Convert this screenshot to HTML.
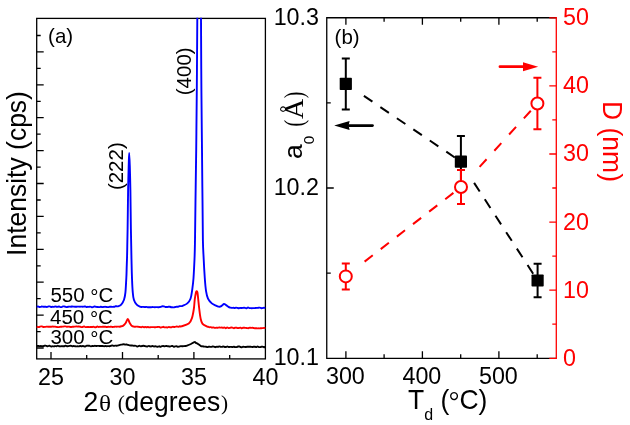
<!DOCTYPE html>
<html><head><meta charset="utf-8"><title>XRD</title>
<style>html,body{margin:0;padding:0;background:#fff;}body{width:630px;height:425px;overflow:hidden;font-family:"Liberation Sans",sans-serif;}svg{display:block;will-change:transform;}text{font-family:"Liberation Sans",sans-serif;}.se{font-family:"Liberation Serif",serif;}</style>
</head><body>
<svg width="630" height="425" viewBox="0 0 630 425">
<rect x="0" y="0" width="630" height="425" fill="#fff"/>
<g id="panelA">
<clipPath id="ca"><rect x="36.05" y="17.75" width="230.00" height="341.80"/></clipPath>
<rect x="36.7" y="18.4" width="228.7" height="340.5" fill="none" stroke="#000" stroke-width="1.3"/>
<path d="M36.7,348.0h7 M36.7,331.6h4 M36.7,315.1h7 M36.7,298.7h4 M36.7,282.2h7 M36.7,265.8h4 M36.7,249.3h7 M36.7,232.9h4 M36.7,216.4h7 M36.7,200.0h4 M36.7,183.5h7 M36.7,167.1h4 M36.7,150.6h7 M36.7,134.2h4 M36.7,117.7h7 M36.7,101.3h4 M36.7,84.8h7 M36.7,68.4h4 M36.7,51.9h7 M36.7,35.5h4 M51.0,358.9v-7 M122.5,358.9v-7 M193.9,358.9v-7 M86.7,358.9v-4 M158.2,358.9v-4 M229.7,358.9v-4" stroke="#000" stroke-width="1.3" fill="none"/>
<g clip-path="url(#ca)" fill="none" stroke-width="1.9" stroke-linejoin="round" stroke-linecap="butt">
<path d="M36.7,346.1 C36.9,346.1 37.5,345.9 38.0,345.9 C38.5,345.9 38.9,346.1 39.3,346.1 C39.8,346.2 40.2,346.0 40.7,346.0 C41.1,346.0 41.5,346.1 42.0,346.2 C42.4,346.2 42.8,346.3 43.3,346.2 C43.8,346.1 44.1,345.8 44.6,345.7 C45.1,345.6 45.5,345.6 45.9,345.7 C46.4,345.8 46.8,346.3 47.2,346.4 C47.7,346.4 48.1,346.0 48.6,345.9 C49.0,345.8 49.4,345.7 49.9,345.9 C50.4,346.0 50.7,346.5 51.2,346.5 C51.7,346.5 52.1,346.1 52.5,346.1 C53.0,346.0 53.4,346.4 53.8,346.4 C54.3,346.4 54.7,346.1 55.2,346.1 C55.6,346.0 56.0,346.2 56.5,346.2 C57.0,346.1 57.3,345.8 57.8,345.8 C58.3,345.8 58.6,346.1 59.1,346.2 C59.6,346.3 60.0,346.4 60.4,346.4 C60.9,346.4 61.3,346.1 61.8,346.1 C62.2,346.1 62.6,346.2 63.1,346.3 C63.5,346.3 63.9,346.3 64.4,346.2 C64.9,346.1 65.2,345.7 65.7,345.7 C66.2,345.7 66.6,346.2 67.0,346.3 C67.5,346.3 67.9,346.2 68.3,346.1 C68.8,346.1 69.2,346.0 69.7,345.9 C70.1,345.8 70.5,345.6 71.0,345.7 C71.5,345.7 71.8,346.3 72.3,346.4 C72.8,346.4 73.2,346.0 73.6,346.0 C74.1,346.0 74.5,346.2 74.9,346.2 C75.4,346.3 75.8,346.4 76.3,346.4 C76.7,346.4 77.1,346.2 77.6,346.2 C78.1,346.2 78.4,346.4 78.9,346.4 C79.4,346.3 79.7,346.0 80.2,345.9 C80.7,345.9 81.1,346.3 81.5,346.3 C82.0,346.3 82.4,346.0 82.9,346.0 C83.3,346.0 83.7,346.3 84.2,346.4 C84.6,346.5 85.0,346.5 85.5,346.3 C86.0,346.2 86.3,345.8 86.8,345.7 C87.3,345.6 87.7,345.7 88.1,345.7 C88.6,345.7 89.0,345.7 89.5,345.8 C89.9,345.9 90.3,346.4 90.8,346.4 C91.2,346.4 91.6,346.0 92.1,346.0 C92.6,345.9 92.9,346.1 93.4,346.1 C93.9,346.1 94.3,345.9 94.7,345.8 C95.2,345.8 95.6,346.0 96.0,346.0 C96.5,346.0 96.9,345.9 97.4,345.9 C97.8,345.9 98.2,345.9 98.7,345.9 C99.2,345.9 99.5,346.0 100.0,346.0 C100.5,346.0 100.9,346.0 101.4,346.0 C101.9,346.0 102.2,346.0 102.7,346.0 C103.2,346.0 103.6,346.2 104.1,346.2 C104.6,346.2 105.0,346.0 105.5,346.0 C105.9,346.0 106.3,346.2 106.8,346.2 C107.3,346.2 107.7,346.1 108.2,346.1 C108.7,346.1 109.1,346.2 109.5,346.2 C110.0,346.1 110.4,346.0 110.9,345.9 C111.4,345.7 111.8,345.4 112.3,345.4 C112.8,345.4 113.1,345.9 113.6,345.9 C114.1,346.0 114.5,345.6 115.0,345.6 C115.5,345.6 116.1,345.8 116.7,345.7 C117.3,345.7 117.7,345.6 118.3,345.4 C118.9,345.2 119.4,345.0 120.0,344.8 C120.6,344.6 121.2,344.7 121.8,344.6 C122.5,344.5 123.1,344.2 123.7,344.2 C124.3,344.2 124.6,344.6 125.1,344.6 C125.6,344.7 126.1,344.4 126.6,344.4 C127.1,344.5 127.5,344.7 128.0,344.9 C128.5,345.1 129.0,345.3 129.5,345.4 C130.0,345.5 130.5,345.5 131.0,345.5 C131.5,345.5 132.0,345.4 132.5,345.5 C133.0,345.5 133.5,345.9 134.0,345.9 C134.5,345.9 134.9,345.5 135.3,345.6 C135.8,345.6 136.2,346.1 136.7,346.3 C137.1,346.4 137.5,346.5 138.0,346.4 C138.5,346.3 138.9,345.7 139.3,345.7 C139.8,345.7 140.2,346.3 140.7,346.3 C141.1,346.4 141.5,346.1 142.0,346.0 C142.5,345.9 142.9,345.8 143.3,345.8 C143.8,345.8 144.2,345.9 144.7,346.0 C145.1,346.1 145.5,346.3 146.0,346.4 C146.5,346.5 146.9,346.6 147.3,346.5 C147.8,346.4 148.2,345.9 148.7,345.9 C149.1,345.8 149.5,346.2 150.0,346.3 C150.5,346.4 150.8,346.5 151.3,346.4 C151.8,346.3 152.2,345.9 152.6,345.9 C153.1,345.9 153.5,346.5 153.9,346.5 C154.4,346.5 154.8,346.2 155.3,346.2 C155.7,346.2 156.1,346.5 156.6,346.6 C157.1,346.7 157.4,346.8 157.9,346.7 C158.4,346.7 158.7,346.3 159.2,346.3 C159.7,346.3 160.1,346.8 160.5,346.8 C161.0,346.7 161.4,346.3 161.8,346.2 C162.3,346.1 162.7,346.0 163.2,346.0 C163.6,346.0 164.0,346.4 164.5,346.4 C164.9,346.4 165.3,346.0 165.8,346.0 C166.3,345.9 166.6,346.1 167.1,346.1 C167.6,346.2 167.9,346.2 168.4,346.3 C168.9,346.4 169.3,346.5 169.7,346.5 C170.2,346.4 170.6,346.2 171.1,346.1 C171.5,346.0 171.9,345.9 172.4,346.0 C172.8,346.1 173.2,346.6 173.7,346.7 C174.2,346.8 174.5,346.5 175.0,346.4 C175.5,346.3 175.9,346.2 176.3,346.2 C176.8,346.3 177.2,346.6 177.7,346.7 C178.1,346.8 178.5,346.7 179.0,346.6 C179.5,346.5 179.9,346.2 180.3,346.2 C180.8,346.1 181.2,346.2 181.7,346.2 C182.1,346.2 182.5,346.2 183.0,346.2 C183.5,346.2 183.9,346.1 184.3,346.1 C184.8,346.0 185.2,346.1 185.7,346.0 C186.1,345.9 186.0,346.1 187.0,345.7 C188.0,345.3 189.7,344.6 191.0,344.0 C192.3,343.4 193.6,342.3 194.5,342.1 C195.4,341.9 195.5,342.7 196.0,342.9 C196.5,343.2 196.6,343.0 197.5,343.6 C198.4,344.2 200.1,345.6 201.0,346.1 C201.9,346.6 202.1,346.3 202.7,346.3 C203.3,346.4 203.7,346.5 204.3,346.6 C204.9,346.7 205.5,346.6 206.0,346.7 C206.5,346.8 206.9,347.1 207.3,347.1 C207.8,347.1 208.2,346.8 208.7,346.7 C209.1,346.7 209.5,346.6 210.0,346.7 C210.5,346.7 210.9,347.0 211.3,346.9 C211.8,346.9 212.2,346.6 212.7,346.5 C213.1,346.5 213.5,346.5 214.0,346.6 C214.5,346.7 214.9,347.1 215.3,347.2 C215.8,347.2 216.2,346.9 216.7,346.8 C217.1,346.7 217.5,346.9 218.0,346.8 C218.5,346.8 218.9,346.4 219.3,346.4 C219.8,346.4 220.2,346.7 220.7,346.8 C221.1,346.8 221.5,347.0 222.0,346.9 C222.5,346.8 222.9,346.4 223.3,346.4 C223.8,346.5 224.2,346.9 224.7,347.0 C225.1,347.0 225.5,347.1 226.0,347.0 C226.5,346.9 226.9,346.5 227.3,346.5 C227.8,346.5 228.2,346.9 228.7,347.0 C229.1,347.1 229.5,346.9 230.0,346.9 C230.5,346.9 230.8,346.8 231.3,346.9 C231.8,346.9 232.2,347.1 232.6,347.1 C233.1,347.0 233.5,346.8 233.9,346.8 C234.4,346.8 234.8,347.0 235.2,347.1 C235.7,347.1 236.1,347.2 236.6,347.1 C237.0,347.0 237.4,346.6 237.9,346.5 C238.3,346.4 238.7,346.4 239.2,346.5 C239.6,346.6 240.0,346.9 240.5,347.0 C241.0,347.2 241.3,347.4 241.8,347.3 C242.3,347.2 242.6,346.8 243.1,346.7 C243.6,346.6 244.0,346.8 244.4,346.9 C244.9,346.9 245.3,347.0 245.7,347.0 C246.2,347.0 246.6,346.8 247.0,346.7 C247.5,346.7 247.9,346.8 248.4,346.8 C248.8,346.8 249.2,346.7 249.7,346.7 C250.1,346.7 250.5,346.7 251.0,346.8 C251.4,346.8 251.8,347.0 252.3,347.0 C252.8,347.0 253.1,346.8 253.6,346.7 C254.1,346.7 254.4,346.7 254.9,346.8 C255.4,346.9 255.8,347.2 256.2,347.1 C256.7,347.1 257.1,346.5 257.5,346.5 C258.0,346.5 258.4,346.9 258.8,347.0 C259.3,347.1 259.7,347.1 260.2,347.1 C260.6,347.1 261.0,346.8 261.5,346.7 C261.9,346.7 262.3,346.6 262.8,346.7 C263.2,346.7 263.6,347.1 264.1,347.2 C264.6,347.2 265.2,346.9 265.4,346.9" stroke="#000"/>
<path d="M36.7,326.7 C36.9,326.8 37.5,327.0 38.0,327.0 C38.5,327.1 38.9,327.2 39.3,327.0 C39.8,326.9 40.2,326.5 40.7,326.4 C41.1,326.3 41.5,326.3 42.0,326.4 C42.4,326.5 42.8,326.9 43.3,327.0 C43.8,327.1 44.1,326.9 44.6,326.9 C45.1,326.9 45.5,326.9 45.9,326.8 C46.4,326.8 46.8,326.6 47.2,326.6 C47.7,326.6 48.1,326.8 48.6,326.8 C49.0,326.8 49.4,326.8 49.9,326.8 C50.4,326.8 50.7,326.8 51.2,326.8 C51.7,326.7 52.1,326.5 52.5,326.5 C53.0,326.4 53.4,326.6 53.8,326.7 C54.3,326.7 54.7,326.6 55.2,326.6 C55.6,326.7 56.0,326.8 56.5,326.9 C57.0,327.0 57.3,327.1 57.8,327.1 C58.3,327.1 58.6,327.1 59.1,327.1 C59.6,327.0 60.0,326.8 60.4,326.8 C60.9,326.7 61.3,326.7 61.8,326.7 C62.2,326.7 62.6,326.6 63.1,326.6 C63.5,326.5 63.9,326.4 64.4,326.4 C64.9,326.4 65.2,326.3 65.7,326.4 C66.2,326.4 66.6,326.7 67.0,326.7 C67.5,326.8 67.9,326.6 68.3,326.6 C68.8,326.6 69.2,326.6 69.7,326.7 C70.1,326.7 70.5,327.0 71.0,327.1 C71.5,327.1 71.8,326.8 72.3,326.8 C72.8,326.7 73.2,326.8 73.6,326.8 C74.1,326.8 74.5,326.6 74.9,326.6 C75.4,326.5 75.8,326.4 76.3,326.4 C76.7,326.4 77.1,326.6 77.6,326.6 C78.1,326.6 78.4,326.5 78.9,326.5 C79.4,326.5 79.7,326.7 80.2,326.8 C80.7,326.9 81.1,327.1 81.5,327.1 C82.0,327.2 82.4,327.0 82.9,326.9 C83.3,326.8 83.7,326.5 84.2,326.5 C84.6,326.6 85.0,327.0 85.5,327.1 C86.0,327.2 86.3,327.0 86.8,327.0 C87.3,327.0 87.7,326.9 88.1,327.0 C88.6,327.0 89.0,327.1 89.5,327.1 C89.9,327.1 90.3,327.0 90.8,327.0 C91.2,327.0 91.6,327.1 92.1,327.0 C92.6,327.0 92.9,326.7 93.4,326.7 C93.9,326.7 94.3,327.1 94.7,327.2 C95.2,327.2 95.6,327.3 96.0,327.1 C96.5,327.0 96.9,326.6 97.4,326.5 C97.8,326.5 98.2,326.9 98.7,327.0 C99.2,327.0 99.5,326.8 100.0,326.8 C100.5,326.8 100.9,327.0 101.4,326.9 C101.9,326.9 102.3,326.8 102.8,326.7 C103.3,326.7 103.7,326.8 104.2,326.8 C104.7,326.8 105.0,326.7 105.5,326.7 C106.0,326.8 106.4,327.1 106.9,327.0 C107.4,327.0 107.8,326.7 108.3,326.7 C108.8,326.7 109.2,327.0 109.7,326.9 C110.2,326.9 110.6,326.6 111.1,326.6 C111.6,326.6 112.0,326.9 112.5,327.0 C113.0,327.0 113.3,327.0 113.8,326.9 C114.3,326.9 114.7,326.7 115.2,326.6 C115.7,326.6 116.1,326.7 116.6,326.7 C117.1,326.7 117.5,326.6 118.0,326.6 C118.5,326.6 119.0,326.7 119.6,326.7 C120.2,326.6 120.7,326.4 121.3,326.3 C121.9,326.2 122.1,326.4 122.9,325.9 C123.7,325.4 124.6,324.6 125.5,323.3 C126.4,322.0 127.1,319.0 127.8,318.9 C128.5,318.8 128.9,321.6 129.6,322.8 C130.3,324.0 130.8,324.9 131.5,325.6 C132.2,326.3 133.0,326.4 133.7,326.6 C134.4,326.8 134.7,326.7 135.3,326.7 C135.8,326.7 136.3,326.6 136.8,326.6 C137.4,326.6 137.9,326.7 138.4,326.8 C139.0,326.8 139.5,326.9 140.0,327.0 C140.5,327.1 140.8,327.2 141.3,327.2 C141.8,327.1 142.1,326.7 142.6,326.8 C143.1,326.8 143.4,327.3 143.9,327.3 C144.4,327.4 144.7,326.9 145.2,326.9 C145.7,326.9 146.1,327.3 146.5,327.4 C147.0,327.4 147.4,326.9 147.8,326.9 C148.3,326.9 148.7,327.4 149.1,327.4 C149.6,327.5 150.0,327.3 150.4,327.2 C150.9,327.2 151.3,327.1 151.7,327.1 C152.2,327.1 152.6,327.1 153.0,327.1 C153.5,327.1 153.9,327.2 154.3,327.2 C154.8,327.2 155.2,327.2 155.7,327.2 C156.1,327.1 156.5,327.0 157.0,327.0 C157.4,326.9 157.8,326.9 158.3,326.9 C158.7,326.9 159.1,327.0 159.6,327.1 C160.0,327.2 160.4,327.5 160.9,327.5 C161.3,327.5 161.7,327.4 162.2,327.2 C162.6,327.1 163.0,326.8 163.5,326.8 C163.9,326.9 164.3,327.3 164.8,327.4 C165.3,327.5 165.6,327.3 166.1,327.3 C166.6,327.4 166.9,327.6 167.4,327.5 C167.9,327.4 168.2,327.0 168.7,327.0 C169.2,326.9 169.5,327.1 170.0,327.2 C170.5,327.3 170.9,327.4 171.4,327.3 C171.9,327.2 172.3,326.7 172.8,326.7 C173.3,326.6 173.7,327.0 174.2,327.0 C174.7,327.0 175.1,326.7 175.7,326.6 C176.2,326.5 176.6,326.4 177.1,326.5 C177.6,326.5 178.0,326.9 178.5,326.9 C179.0,326.8 179.4,326.3 179.9,326.2 C180.4,326.1 179.7,326.9 181.3,326.4 C182.9,325.9 186.9,325.1 188.8,323.6 C190.7,322.1 191.1,320.6 192.0,317.9 C192.9,315.2 193.4,311.9 193.9,308.5 C194.4,305.1 194.4,302.0 194.8,299.1 C195.2,296.2 195.7,293.7 196.0,292.3 C196.3,290.9 196.4,291.2 196.7,291.2 C197.0,291.2 197.1,290.9 197.4,292.3 C197.7,293.7 197.9,296.2 198.2,299.1 C198.5,302.0 198.8,305.1 199.2,308.5 C199.6,311.9 199.9,315.2 200.5,317.9 C201.1,320.6 201.3,322.1 202.4,323.6 C203.5,325.1 205.7,325.8 206.7,326.4 C207.7,327.0 207.5,326.6 208.0,326.7 C208.5,326.9 208.9,327.2 209.3,327.3 C209.8,327.3 210.2,327.0 210.7,327.1 C211.2,327.2 211.5,327.5 212.0,327.6 C212.5,327.7 212.9,327.3 213.4,327.4 C213.9,327.5 214.3,327.9 214.8,327.9 C215.3,328.0 215.7,327.6 216.2,327.6 C216.7,327.6 217.0,327.9 217.5,327.9 C218.0,327.8 218.4,327.4 218.9,327.4 C219.4,327.3 219.8,327.6 220.3,327.6 C220.8,327.7 221.2,327.5 221.7,327.5 C222.2,327.6 222.6,327.9 223.1,327.9 C223.6,327.9 224.0,327.4 224.5,327.5 C225.0,327.5 225.3,328.2 225.8,328.2 C226.3,328.2 226.7,327.5 227.2,327.5 C227.7,327.5 228.1,328.0 228.6,328.1 C229.1,328.1 229.5,328.0 230.0,327.9 C230.5,327.8 230.8,327.6 231.3,327.5 C231.8,327.5 232.2,327.6 232.6,327.7 C233.1,327.8 233.5,328.2 233.9,328.2 C234.4,328.1 234.8,327.8 235.2,327.7 C235.7,327.6 236.1,327.6 236.6,327.7 C237.0,327.8 237.4,328.1 237.9,328.1 C238.3,328.1 238.7,328.0 239.2,327.9 C239.6,327.8 240.0,327.5 240.5,327.6 C241.0,327.7 241.3,328.3 241.8,328.3 C242.3,328.4 242.6,327.8 243.1,327.7 C243.6,327.6 244.0,327.6 244.4,327.6 C244.9,327.7 245.3,327.8 245.7,327.9 C246.2,328.0 246.6,328.0 247.0,328.1 C247.5,328.1 247.9,328.3 248.4,328.2 C248.8,328.1 249.2,327.8 249.7,327.7 C250.1,327.7 250.5,327.9 251.0,327.9 C251.4,327.9 251.8,327.7 252.3,327.7 C252.8,327.7 253.1,327.9 253.6,328.0 C254.1,328.1 254.4,328.2 254.9,328.2 C255.4,328.3 255.8,328.2 256.2,328.2 C256.7,328.3 257.1,328.4 257.5,328.4 C258.0,328.4 258.4,328.3 258.8,328.3 C259.3,328.3 259.7,328.4 260.2,328.3 C260.6,328.3 261.0,328.3 261.5,328.2 C261.9,328.2 262.3,328.1 262.8,328.1 C263.2,328.0 263.6,327.9 264.1,327.9 C264.6,327.9 265.2,328.1 265.4,328.1" stroke="#ff0000"/>
<path d="M36.7,306.7 C36.9,306.7 37.5,306.4 38.0,306.4 C38.5,306.5 38.9,306.9 39.3,307.0 C39.8,307.1 40.2,307.0 40.6,306.9 C41.1,306.8 41.5,306.6 41.9,306.5 C42.4,306.5 42.8,306.7 43.3,306.7 C43.7,306.7 44.1,306.7 44.6,306.7 C45.0,306.7 45.4,306.8 45.9,306.8 C46.4,306.9 46.7,307.0 47.2,306.9 C47.7,306.9 48.0,306.5 48.5,306.4 C49.0,306.3 49.3,306.3 49.8,306.4 C50.3,306.5 50.7,306.9 51.1,307.0 C51.6,307.0 52.0,306.7 52.4,306.7 C52.9,306.7 53.3,307.0 53.8,306.9 C54.2,306.9 54.6,306.4 55.1,306.4 C55.5,306.3 55.9,306.6 56.4,306.7 C56.9,306.8 57.2,306.9 57.7,306.9 C58.2,306.9 58.5,306.5 59.0,306.5 C59.5,306.6 59.8,307.0 60.3,307.1 C60.8,307.2 61.2,307.2 61.6,307.1 C62.1,306.9 62.5,306.5 62.9,306.4 C63.4,306.3 63.8,306.3 64.3,306.4 C64.7,306.5 65.1,306.7 65.6,306.8 C66.0,306.9 66.4,307.1 66.9,307.1 C67.4,307.1 67.7,306.8 68.2,306.7 C68.7,306.6 69.0,306.6 69.5,306.6 C70.0,306.6 70.3,306.7 70.8,306.7 C71.3,306.7 71.7,306.5 72.1,306.4 C72.6,306.4 73.0,306.5 73.4,306.6 C73.9,306.6 74.3,306.7 74.8,306.7 C75.2,306.8 75.6,306.8 76.1,306.8 C76.5,306.8 76.9,306.6 77.4,306.6 C77.8,306.6 78.2,306.6 78.7,306.6 C79.2,306.6 79.5,306.8 80.0,306.8 C80.5,306.8 80.8,306.6 81.3,306.6 C81.8,306.6 82.1,306.8 82.6,306.8 C83.1,306.8 83.4,306.7 83.9,306.6 C84.4,306.6 84.7,306.4 85.2,306.4 C85.7,306.5 86.1,307.0 86.5,307.1 C87.0,307.1 87.4,306.9 87.8,306.8 C88.3,306.8 88.7,307.0 89.1,306.9 C89.6,306.9 90.0,306.5 90.4,306.6 C90.9,306.6 91.3,307.1 91.7,307.2 C92.2,307.3 92.6,307.2 93.0,307.1 C93.5,307.0 93.9,306.6 94.3,306.5 C94.8,306.4 95.2,306.6 95.7,306.7 C96.1,306.8 96.5,306.9 97.0,307.0 C97.4,307.0 97.8,306.9 98.3,307.0 C98.7,307.0 99.1,307.2 99.6,307.1 C100.0,307.1 100.4,306.8 100.9,306.7 C101.3,306.7 101.7,307.0 102.2,307.1 C102.6,307.1 103.0,307.0 103.5,306.9 C103.9,306.9 104.3,306.7 104.8,306.7 C105.3,306.6 105.6,306.8 106.1,306.9 C106.6,306.9 106.9,307.1 107.4,307.1 C107.9,307.1 108.2,307.1 108.7,307.1 C109.2,307.0 109.5,306.8 110.0,306.8 C110.5,306.8 110.9,306.8 111.3,306.8 C111.8,306.8 112.2,306.9 112.7,306.9 C113.1,306.9 113.5,306.9 114.0,306.8 C114.5,306.7 114.9,306.4 115.3,306.3 C115.8,306.2 116.2,306.3 116.7,306.3 C117.1,306.3 117.2,306.6 118.0,306.3 C118.8,306.0 120.1,305.9 121.2,304.7 C122.3,303.5 123.2,301.9 124.0,299.7 C124.8,297.5 125.0,296.5 125.4,292.7 C125.8,288.9 126.0,283.6 126.3,278.5 C126.6,273.4 126.6,269.5 126.8,264.4 C127.0,259.3 127.1,256.6 127.2,250.3 C127.3,244.0 127.4,240.1 127.6,229.3 C127.8,218.5 127.9,201.7 128.1,190.3 C128.3,178.9 128.5,172.6 128.7,165.9 C128.9,159.2 129.0,152.9 129.2,152.9 C129.4,152.9 129.6,159.2 129.8,165.9 C130.0,172.6 130.2,178.9 130.4,190.3 C130.6,201.7 130.7,218.5 130.9,229.3 C131.1,240.1 131.2,244.0 131.3,250.3 C131.4,256.6 131.5,259.3 131.6,264.3 C131.7,269.3 131.8,273.2 132.0,278.3 C132.2,283.4 132.4,288.8 132.8,292.7 C133.1,296.6 133.2,297.5 133.9,299.7 C134.6,301.9 135.6,303.5 136.7,304.7 C137.8,305.9 139.1,306.2 140.0,306.6 C140.9,307.0 141.1,306.9 141.7,307.0 C142.3,307.0 142.7,306.8 143.3,306.9 C143.9,306.9 144.4,307.1 145.0,307.1 C145.6,307.1 145.9,306.9 146.4,306.9 C146.9,306.9 147.3,307.1 147.9,307.2 C148.4,307.2 148.8,307.3 149.3,307.3 C149.8,307.3 150.2,307.3 150.7,307.3 C151.2,307.2 151.6,307.1 152.1,307.1 C152.7,307.0 153.1,307.1 153.6,307.1 C154.1,307.2 154.4,307.2 155.0,307.2 C155.6,307.2 156.1,307.1 156.7,307.1 C157.3,307.2 157.7,307.3 158.3,307.3 C158.9,307.3 159.4,307.1 160.0,307.0 C160.6,306.9 160.9,306.8 161.4,306.6 C161.9,306.5 162.3,306.2 162.8,306.2 C163.3,306.2 163.7,306.4 164.2,306.5 C164.6,306.7 165.0,306.9 165.5,307.0 C166.0,307.1 166.4,307.1 166.9,307.0 C167.5,307.0 167.9,306.8 168.4,306.7 C168.9,306.7 169.3,306.7 169.9,306.8 C170.4,306.9 170.8,307.1 171.3,307.2 C171.8,307.3 172.2,307.2 172.6,307.3 C173.1,307.3 173.5,307.4 174.0,307.4 C174.5,307.3 174.8,307.1 175.3,307.0 C175.8,306.9 176.2,306.8 176.7,306.7 C177.1,306.7 177.5,306.8 178.0,306.7 C178.5,306.6 179.0,306.3 179.5,306.1 C180.1,306.0 180.5,306.2 181.1,306.1 C181.6,306.0 181.5,306.3 182.6,305.8 C183.7,305.3 185.9,304.7 187.3,303.4 C188.7,302.1 189.7,300.9 190.5,298.7 C191.3,296.5 191.5,295.0 192.0,291.3 C192.5,287.6 193.1,284.1 193.5,278.3 C193.9,272.5 194.2,266.1 194.5,259.3 C194.8,252.5 194.8,250.9 195.0,240.3 C195.2,229.7 195.3,216.5 195.5,200.3 C195.7,184.1 196.0,170.1 196.2,150.3 C196.4,130.5 196.6,114.1 196.8,90.3 C197.0,66.5 197.1,45.3 197.3,18.3 C197.5,-8.7 197.7,-34.9 198.0,-59.7 C198.3,-84.5 198.8,-119.7 199.2,-119.7 C199.6,-119.7 200.1,-84.5 200.4,-59.7 C200.7,-34.9 200.8,-8.7 201.0,18.3 C201.2,45.3 201.2,66.5 201.4,90.3 C201.6,114.1 201.8,130.5 202.0,150.3 C202.2,170.1 202.3,184.1 202.5,200.3 C202.7,216.5 202.7,229.7 202.9,240.3 C203.1,250.9 203.4,252.5 203.7,259.3 C204.0,266.1 204.4,272.5 204.8,278.3 C205.2,284.1 205.5,287.6 206.1,291.3 C206.7,295.0 207.0,296.5 208.0,298.7 C209.0,300.9 210.3,302.1 211.8,303.4 C213.3,304.7 215.3,305.2 216.5,305.8 C217.7,306.4 217.7,306.4 218.4,306.6 C219.1,306.7 219.7,306.8 220.3,306.6 C220.9,306.4 221.3,306.0 222.0,305.5 C222.7,305.0 223.3,304.1 224.0,304.0 C224.7,303.9 225.2,304.6 226.0,305.1 C226.8,305.6 227.7,306.4 228.5,306.9 C229.3,307.4 230.0,307.5 230.6,307.7 C231.2,307.9 231.5,307.9 231.9,307.9 C232.4,307.9 232.8,307.8 233.3,307.8 C233.8,307.8 234.1,308.1 234.6,308.1 C235.1,308.0 235.5,307.6 236.0,307.6 C236.5,307.6 236.8,307.7 237.3,307.9 C237.8,308.0 238.2,308.2 238.7,308.2 C239.1,308.2 239.5,307.9 240.0,307.9 C240.5,307.9 240.9,308.0 241.3,308.0 C241.8,308.0 242.2,307.9 242.7,307.9 C243.2,307.8 243.5,307.7 244.0,307.7 C244.5,307.7 244.9,307.8 245.3,307.9 C245.8,308.0 246.2,308.3 246.7,308.2 C247.2,308.2 247.5,307.5 248.0,307.5 C248.5,307.5 248.9,308.0 249.4,308.1 C249.8,308.2 250.2,308.1 250.7,308.1 C251.2,308.2 251.6,308.2 252.0,308.2 C252.5,308.2 252.9,308.1 253.4,308.1 C253.8,308.1 254.2,308.2 254.7,308.1 C255.2,308.1 255.6,307.9 256.0,307.9 C256.5,307.9 256.9,308.0 257.4,307.9 C257.9,307.9 258.2,307.9 258.7,307.8 C259.2,307.8 259.6,307.5 260.1,307.6 C260.5,307.6 260.9,308.1 261.4,308.2 C261.9,308.3 262.2,308.0 262.7,308.0 C263.2,307.9 263.6,307.7 264.1,307.7 C264.5,307.7 265.2,307.9 265.4,307.9" stroke="#0000ff"/>
</g>
<text x="51.0" y="385" font-size="23.3" text-anchor="middle">25</text>
<text x="122.5" y="385" font-size="23.3" text-anchor="middle">30</text>
<text x="193.9" y="385" font-size="23.3" text-anchor="middle">35</text>
<text x="265.4" y="385" font-size="23.3" text-anchor="middle">40</text>
<text transform="translate(83.5,410.7) scale(1,1.03)" font-size="26.5">2</text>
<text class="se" transform="translate(98.9,410.7) scale(1.12,1.03)" font-size="22.5">θ</text>
<text class="se" transform="translate(117.7,410.1) scale(1,1.03)" font-size="21.3">(</text>
<text transform="translate(124.6,410.7) scale(1,1.03)" font-size="26.5">degrees</text>
<text class="se" transform="translate(221.0,410.1) scale(1,1.03)" font-size="21.3">)</text>
<text transform="translate(26.2,173.5) rotate(-90) scale(1,1.03)" font-size="26.5" text-anchor="middle">Intensity (cps)</text>
<text transform="translate(48.1,43.3) scale(1,1.03)" font-size="20.5">(a)</text>
<text transform="translate(122.6,166.2) rotate(-90)" font-size="20.5" text-anchor="middle">(222)</text>
<text transform="translate(191.0,71.3) rotate(-90)" font-size="20.5" text-anchor="middle">(400)</text>
<text x="50.4" y="302.2" font-size="20.5">550 <tspan dy="1.5">°</tspan><tspan dy="-1.5">C</tspan></text>
<text x="50.0" y="324.0" font-size="20.5">450 <tspan dy="1.5">°</tspan><tspan dy="-1.5">C</tspan></text>
<text x="50.4" y="344.1" font-size="20.5">300 <tspan dy="1.5">°</tspan><tspan dy="-1.5">C</tspan></text>
</g>
<g id="panelB">
<path d="M556.3,17.75H326.75V358.3H556.3" fill="none" stroke="#000" stroke-width="1.3" stroke-linejoin="miter"/>
<path d="M556.3,17.1V358.95" fill="none" stroke="#ff0000" stroke-width="1.3"/>
<path d="M326.75,188.0h7 M326.75,273.2h4 M326.75,102.9h4 M345.9,358.3v-7 M345.9,17.75v7 M422.4,358.3v-7 M422.4,17.75v7 M498.9,358.3v-7 M498.9,17.75v7 M384.1,358.3v-4 M384.1,17.75v4 M460.7,358.3v-4 M460.7,17.75v4 M537.2,358.3v-4 M537.2,17.75v4" stroke="#000" stroke-width="1.3" fill="none"/>
<path d="M556.3,358.3h-7 M556.3,290.2h-7 M556.3,222.1h-7 M556.3,154.0h-7 M556.3,85.9h-7 M556.3,17.8h-7 M556.3,324.2h-4 M556.3,256.1h-4 M556.3,188.0h-4 M556.3,119.9h-4 M556.3,51.8h-4" stroke="#ff0000" stroke-width="1.3" fill="none"/>
<text x="319" y="365.3" font-size="23.3" text-anchor="end">10.1</text>
<text x="319" y="195.0" font-size="23.3" text-anchor="end">10.2</text>
<text x="319" y="24.7" font-size="23.3" text-anchor="end">10.3</text>
<text x="345.4" y="384.1" font-size="23.3" text-anchor="middle">300</text>
<text x="421.9" y="384.1" font-size="23.3" text-anchor="middle">400</text>
<text x="498.4" y="384.1" font-size="23.3" text-anchor="middle">500</text>
<text x="563" y="365.7" font-size="23.3" fill="#ff0000">0</text>
<text x="563" y="297.6" font-size="23.3" fill="#ff0000">10</text>
<text x="563" y="229.5" font-size="23.3" fill="#ff0000">20</text>
<text x="563" y="161.4" font-size="23.3" fill="#ff0000">30</text>
<text x="563" y="93.3" font-size="23.3" fill="#ff0000">40</text>
<text x="563" y="25.1" font-size="23.3" fill="#ff0000">50</text>
<text transform="translate(302,159.0) rotate(-90)" font-size="26.5">a</text>
<text transform="translate(313.5,144.2) rotate(-90)" font-size="15.5">0</text>
<text class="se" transform="translate(303.2,126.6) rotate(-90) scale(0.7,1)" font-size="28">(</text>
<text class="se" transform="translate(303.2,119.0) rotate(-90)" font-size="28">Å</text>
<text class="se" transform="translate(303.2,98.3) rotate(-90) scale(0.7,1)" font-size="28">)</text>
<text transform="translate(603.2,141.5) rotate(90) scale(1,1.04)" font-size="26.5" text-anchor="middle" fill="#ff0000">D (nm)</text>
<text transform="translate(408.0,409.4) scale(1,1.03)" font-size="26.5">T<tspan font-size="16" dy="10.5">d</tspan><tspan dy="-10.5"> (</tspan><tspan class="se" dy="0.5" dx="-0.6">°</tspan><tspan dy="-0.5" dx="0.1">C)</tspan></text>
<text transform="translate(334.6,44.2) scale(1,1.03)" font-size="20.5">(b)</text>
<path d="M363.9,95.9L460.9,161.6" stroke="#000" stroke-width="2" stroke-dasharray="10.3 9.60" fill="none"/>
<path d="M474.1,182.9L537.6,280.5" stroke="#000" stroke-width="2" stroke-dasharray="10.3 9.30" fill="none"/>
<path d="M345.8,58.400000000000006V109.4M341.8,58.400000000000006h8M341.8,109.4h8" stroke="#000" stroke-width="2" fill="none"/>
<rect x="339.7" y="77.8" width="12.2" height="12.2" rx="0.8" fill="#000"/>
<path d="M460.9,136.0V187.2M456.9,136.0h8M456.9,187.2h8" stroke="#000" stroke-width="2" fill="none"/>
<rect x="454.8" y="155.5" width="12.2" height="12.2" rx="0.8" fill="#000"/>
<path d="M537.6,263.7V297.3M533.6,263.7h8M533.6,297.3h8" stroke="#000" stroke-width="2" fill="none"/>
<rect x="531.5" y="274.4" width="12.2" height="12.2" rx="0.8" fill="#000"/>
<path d="M364.6,261.6L461.0,187.0" stroke="#ff0000" stroke-width="2" stroke-dasharray="10.3 10.10" fill="none"/>
<path d="M479.6,166.9L537.4,103.5" stroke="#ff0000" stroke-width="2" stroke-dasharray="10.3 11.60" fill="none"/>
<path d="M345.8,263.4V289.4M341.8,263.4h8M341.8,289.4h8" stroke="#ff0000" stroke-width="2" fill="none"/>
<circle cx="345.8" cy="276.4" r="6.0" fill="#fff" stroke="#ff0000" stroke-width="2"/>
<path d="M461.0,170.0V204.0M457.0,170.0h8M457.0,204.0h8" stroke="#ff0000" stroke-width="2" fill="none"/>
<circle cx="461.0" cy="187.0" r="6.0" fill="#fff" stroke="#ff0000" stroke-width="2"/>
<path d="M537.4,77.65V129.35M533.4,77.65h8M533.4,129.35h8" stroke="#ff0000" stroke-width="2" fill="none"/>
<circle cx="537.4" cy="103.5" r="6.0" fill="#fff" stroke="#ff0000" stroke-width="2"/>
<path d="M349,125.6H372.5" stroke="#000" stroke-width="2.7" stroke-linecap="round" fill="none"/>
<path d="M334.2,125.6L349.6,121.1L348.6,125.6L349.6,130.1Z" fill="#000"/>
<path d="M500,66.7H524" stroke="#ff0000" stroke-width="2.8" stroke-linecap="round" fill="none"/>
<path d="M538.2,66.7L523,62.2L523,71.2Z" fill="#ff0000"/>
</g>
</svg></body></html>
